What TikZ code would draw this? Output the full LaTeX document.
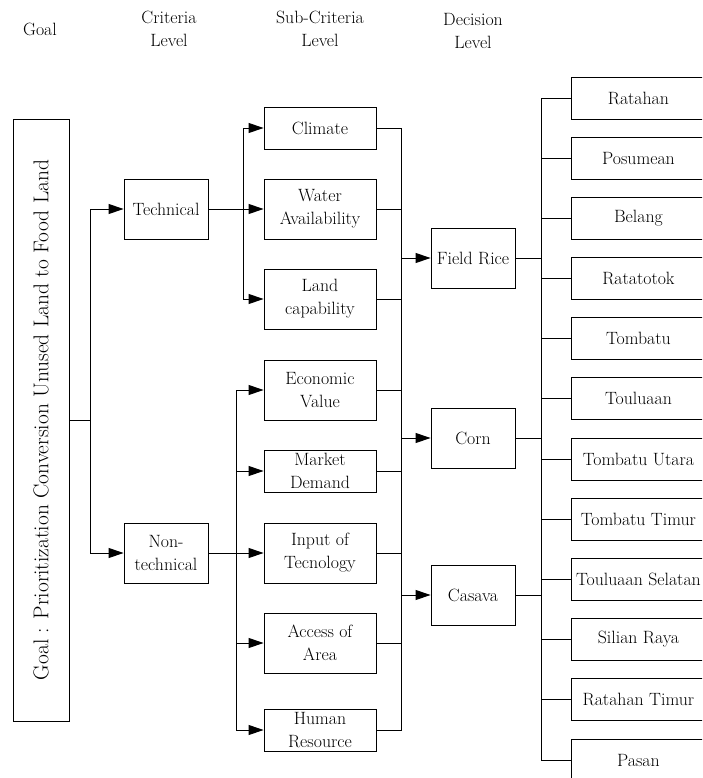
\documentclass[tikz,border=0pt]{standalone}
\usetikzlibrary{arrows.meta}

\begin{document}
\begin{tikzpicture}[x=1pt,y=-1pt,line width=0.9pt,
    >={Triangle[length=15pt,width=10pt]},
    every node/.style={font=\fontsize{17.8}{23}\selectfont,align=center,inner sep=0pt},
    critbox/.style={draw,minimum width=84pt,minimum height=60pt},
    subbox/.style={draw,minimum width=112pt,minimum height=#1},
    subbox/.default=60pt,
    areabox/.style={draw,minimum width=134pt,minimum height=42pt,anchor=west}]
        \clip (0,0) rectangle (702,778);

        \node (Lg) at (40,29) {Goal};
        \node (Lc) at (169,29) {Criteria\\Level};
        \node (Ls) at (320,29) {Sub-Criteria\\Level};
        \node (Ld) at (473,31) {Decision\\Level};

        \node[draw,minimum width=56pt,minimum height=602pt] (G) at (41,420) {};
        \node[rotate=90,font=\fontsize{21.4}{26}\selectfont] at (G) {Goal : Prioritization Conversion Unused Land to Food Land};

        \node[critbox] (T) at (166,209) {Technical};
        \node[critbox] (N) at (166,553) {Non-\\technical};

        \node[subbox=42pt] (S1) at (320,128) {Climate};
        \node[subbox] (S2) at (320,209) {Water\\Availability};
        \node[subbox] (S3) at (320,299) {Land\\capability};
        \node[subbox] (S4) at (320,390) {Economic\\Value};
        \node[subbox=42pt] (S5) at (320,471) {Market\\Demand};
        \node[subbox] (S6) at (320,553) {Input of\\Tecnology};
        \node[subbox] (S7) at (320,643) {Access of\\Area};
        \node[subbox=42pt] (S8) at (320,730) {Human\\Resource};

        \node[critbox] (D1) at (473,258) {Field Rice};
        \node[critbox] (D2) at (473,438) {Corn};
        \node[critbox] (D3) at (473,595) {Casava};

        \node[areabox] (R1) at (571,98) {Ratahan};
        \node[areabox] (R2) at (571,158) {Posumean};
        \node[areabox] (R3) at (571,218) {Belang};
        \node[areabox] (R4) at (571,278) {Ratatotok};
        \node[areabox] (R5) at (571,338) {Tombatu};
        \node[areabox] (R6) at (571,398) {Touluaan};
        \node[areabox] (R7) at (571,459) {Tombatu Utara};
        \node[areabox] (R8) at (571,519) {Tombatu Timur};
        \node[areabox] (R9) at (571,579) {Touluaan Selatan};
        \node[areabox] (R10) at (571,639) {Silian Raya};
        \node[areabox] (R11) at (571,699) {Ratahan Timur};
        \node[areabox] (R12) at (571,760) {Pasan};

        \coordinate (Gf) at (90,420);
        \coordinate (Tf) at (243,209);
        \coordinate (Nf) at (236,553);
        \coordinate (Sc) at (401,0);
        \coordinate (Dc) at (541,0);

        \draw (G.east) -- (Gf);
        \draw[->] (Gf) |- (T.west);
        \draw[->] (Gf) |- (N.west);

        \draw (T.east) -- (Tf);
        \draw[->] (Tf) |- (S1.west);
        \draw[->] (Tf) -- (S2.west);
        \draw[->] (Tf) |- (S3.west);

        \draw (N.east) -- (Nf);
        \draw[->] (Nf) |- (S4.west);
        \draw[->] (Nf) |- (S5.west);
        \draw[->] (Nf) -- (S6.west);
        \draw[->] (Nf) |- (S7.west);
        \draw[->] (Nf) |- (S8.west);

        \draw (S1.east) -| (Sc |- S8.east) -- (S8.east);
        \foreach \s in {S2,S3,S4,S5,S6,S7}
            \draw (\s.east) -- (\s.east -| Sc);
        \foreach \d in {D1,D2,D3}
            \draw[->] (\d.west -| Sc) -- (\d.west);

        \draw (R1.west) -| (Dc |- R12.west) -- (R12.west);
        \foreach \r in {R2,R3,R4,R5,R6,R7,R8,R9,R10,R11}
            \draw (\r.west) -- (\r.west -| Dc);
        \foreach \d in {D1,D2,D3}
            \draw (\d.east) -- (\d.east -| Dc);
    \end{tikzpicture}
\end{document}
